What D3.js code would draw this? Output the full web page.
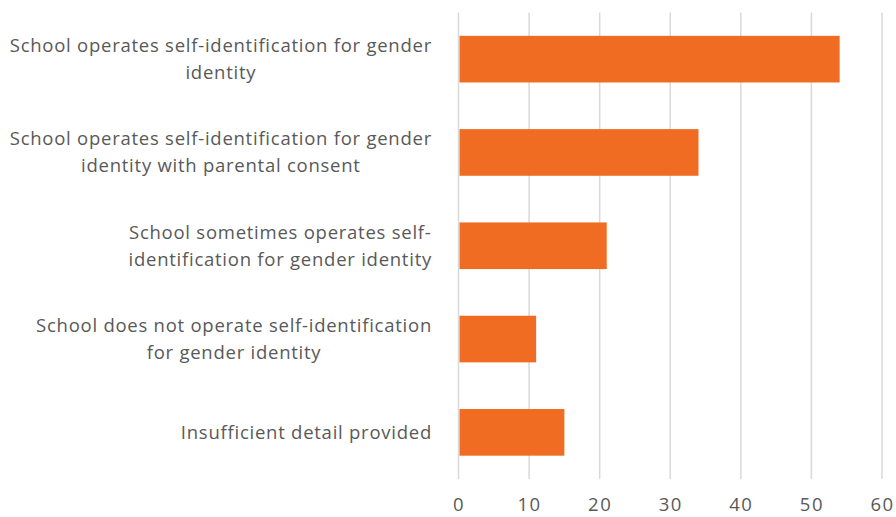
<!DOCTYPE html>
<html>
<head>
  <meta charset="utf-8">
  <script src="https://d3js.org/d3.v7.min.js"></script>
  <style>
    body { margin: 0; background: #fff; }
    text { font-family: "Open Sans", "Liberation Sans", Arial, sans-serif; fill: #595959; }
  </style>
</head>
<body>
  <div id="chart"></div>
  <script>
    // data
    var categories = [
      "School operates self-identification for gender identity",
      "School operates self-identification for gender identity with parental consent",
      "School sometimes operates self-identification for gender identity",
      "School does not operate self-identification for gender identity",
      "Insufficient detail provided"
    ];
    // wrapped lines as they appear in the chart
    var categoryLines = [
      ["School operates self-identification for gender", "identity"],
      ["School operates self-identification for gender", "identity with parental consent"],
      ["School sometimes operates self-", "identification for gender identity"],
      ["School does not operate self-identification", "for gender identity"],
      ["Insufficient detail provided"]
    ];
    var values = [54, 34, 21, 11, 15];
    var xTicks = [0, 10, 20, 30, 40, 50, 60];

    var W = 896, H = 517;
    var plot = { left: 458.5, right: 882, top: 12.5, bottom: 479 };

    var svg = d3.select("#chart").append("svg")
      .attr("width", W)
      .attr("height", H);

    var x = d3.scaleLinear().domain([0, 60]).range([plot.left, plot.right]);
    var y = d3.scaleBand().domain(categories)
      .range([plot.top, plot.bottom])
      .paddingInner(0.5)
      .paddingOuter(0.25);

    // gridlines
    svg.append("g")
      .selectAll("line")
      .data(xTicks)
      .enter().append("line")
      .attr("x1", function (d) { return x(d); })
      .attr("x2", function (d) { return x(d); })
      .attr("y1", plot.top)
      .attr("y2", plot.bottom)
      .attr("stroke", "#d9d9d9")
      .attr("stroke-width", 1.5);

    // bars
    svg.append("g")
      .selectAll("rect")
      .data(values)
      .enter().append("rect")
      .attr("x", x(0) + 1)
      .attr("y", function (d, i) { return y(categories[i]); })
      .attr("width", function (d) { return x(d) - x(0) - 1; })
      .attr("height", y.bandwidth())
      .attr("fill", "#f06c23");

    // x axis labels
    var xAxis = svg.append("g")
      .attr("transform", "translate(0," + (plot.bottom + 1) + ")")
      .call(d3.axisBottom(x).tickValues(xTicks).tickSize(0).tickPadding(18));
    xAxis.select(".domain").remove();
    xAxis.selectAll("text")
      .style("font-size", "18.5px")
      .style("letter-spacing", "1.5px")
      .attr("fill", "#595959");

    // category labels: block right-aligned, lines centred inside it
    var lineH = 27;
    var labelRight = 432;
    categoryLines.forEach(function (lines, i) {
      var cy = y(categories[i]) + y.bandwidth() / 2;
      var g = svg.append("g");
      var t = g.append("text")
        .attr("text-anchor", "middle")
        .style("font-size", "18.5px")
        .style("letter-spacing", "0.75px");
      lines.forEach(function (ln, j) {
        t.append("tspan")
          .attr("x", 0)
          .attr("y", cy + (j - (lines.length - 1) / 2) * lineH)
          .attr("dy", "0.35em")
          .text(ln);
      });
      var w = d3.max(t.selectAll("tspan").nodes(), function (n) { return n.getComputedTextLength(); });
      t.selectAll("tspan").attr("x", labelRight - w / 2);
    });
  </script>
</body>
</html>
